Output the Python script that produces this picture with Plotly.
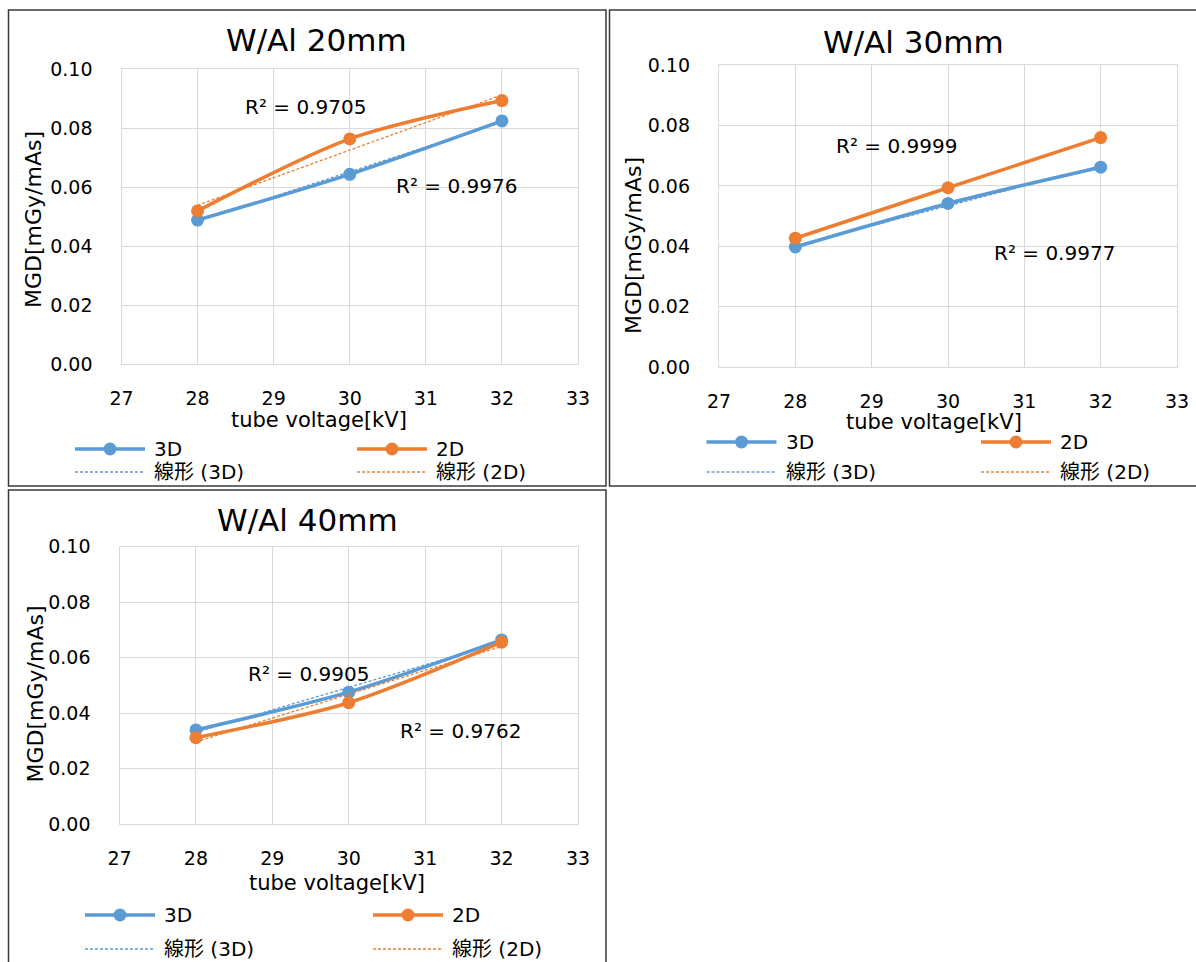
import numpy as np
import plotly.graph_objects as go

# ---- data -------------------------------------------------------------
tube_kv = [28, 30, 32]
panel_titles = ["W/Al 20mm", "W/Al 30mm", "W/Al 40mm"]

mgd_3d_20mm = [0.0488, 0.0643, 0.0824]
mgd_2d_20mm = [0.0519, 0.0763, 0.0893]
mgd_3d_30mm = [0.0398, 0.0542, 0.0662]
mgd_2d_30mm = [0.0427, 0.0594, 0.0760]
mgd_3d_40mm = [0.0340, 0.0476, 0.0664]
mgd_2d_40mm = [0.0312, 0.0438, 0.0656]

r2_3d = ["0.9976", "0.9977", "0.9905"]
r2_2d = ["0.9705", "0.9999", "0.9762"]

series_names = ["3D", "2D"]
trend_names = ["線形 (3D)", "線形 (2D)"]
x_tick_vals = [27, 28, 29, 30, 31, 32, 33]
y_tick_vals = [0.00, 0.02, 0.04, 0.06, 0.08, 0.10]

# ---- styling / layout -------------------------------------------------
W, H = 1196, 962
FONT = "DejaVu Sans, Noto Sans CJK JP"
COL_3D = "#5B9BD5"
COL_2D = "#ED7D31"
GRID = "#d9d9d9"
BORDER = "#3a3a3a"
TREND_DASH = "3px,2px"


def px(x):
    return x / W


def py(y):
    return 1 - y / H


# plot rectangles in pixels: left, right, top, bottom
panels = [
    dict(rect=(121.5, 578, 69, 364), y3d=mgd_3d_20mm, y2d=mgd_2d_20mm,
         title_xy=(316, 40), ytitle_xy=(33, 220), xtitle_xy=(319, 420),
         r2_3d_at=(31.40, 0.0603), r2_2d_at=(29.42, 0.0871),
         legend_cols=(75, 357), legend_rows=(449, 472),
         frame=(8.5, 606, 10, 486)),
    dict(rect=(719, 1177, 65, 367.3), y3d=mgd_3d_30mm, y2d=mgd_2d_30mm,
         title_xy=(913, 42), ytitle_xy=(633, 246), xtitle_xy=(934, 422),
         r2_3d_at=(31.39, 0.0378), r2_2d_at=(29.33, 0.0733),
         legend_cols=(706.5, 981), legend_rows=(442, 472),
         frame=(609.5, 1210, 10, 486)),
    dict(rect=(119.5, 578, 546.7, 824.3), y3d=mgd_3d_40mm, y2d=mgd_2d_40mm,
         title_xy=(307, 520), ytitle_xy=(34.5, 694), xtitle_xy=(337, 883),
         r2_3d_at=(29.47, 0.0541), r2_2d_at=(31.46, 0.0336),
         legend_cols=(85, 373), legend_rows=(915, 949),
         frame=(8.5, 606, 490, 980)),
]

fig = go.Figure()
annotations = []
shapes = []


def text_ann(x, y, text, size, **kw):
    d = dict(x=x, y=y, text=text, showarrow=False,
             font=dict(family=FONT, size=size, color="#000"),
             xanchor="center", yanchor="middle")
    d.update(kw)
    return d


for i, p in enumerate(panels):
    n = "" if i == 0 else str(i + 1)
    xa, ya = "x" + n, "y" + n
    left, right, top, bottom = p["rect"]

    for vals, name, col, r2, r2_at in [
        (p["y3d"], series_names[0], COL_3D, r2_3d[i], p["r2_3d_at"]),
        (p["y2d"], series_names[1], COL_2D, r2_2d[i], p["r2_2d_at"]),
    ]:
        # linear trend line fitted to the measured points
        slope, icpt = np.polyfit(tube_kv, vals, 1)
        trend_y = [slope * k + icpt for k in tube_kv]
        fig.add_trace(go.Scatter(
            x=tube_kv, y=trend_y, xaxis=xa, yaxis=ya, mode="lines",
            line=dict(color=col, width=1.3, dash=TREND_DASH),
            name="線形 (" + name + ")", showlegend=False, hoverinfo="skip"))
        fig.add_trace(go.Scatter(
            x=tube_kv, y=vals, xaxis=xa, yaxis=ya, mode="lines+markers",
            line=dict(color=col, width=3.5, shape="spline", smoothing=0.8),
            marker=dict(color=col, size=13),
            name=name, showlegend=False))
        annotations.append(text_ann(r2_at[0], r2_at[1], "R² = " + r2, 20,
                                    xref=xa, yref=ya))

    axis_common = dict(showgrid=True, gridcolor=GRID, gridwidth=1.3,
                       showline=True, linecolor=GRID, linewidth=1.3, mirror=True,
                       zeroline=False, ticks="outside", tickcolor="rgba(0,0,0,0)",
                       tickfont=dict(family=FONT, size=19, color="#000"),
                       automargin=False, fixedrange=True)
    fig.update_layout(**{
        "xaxis" + n: dict(axis_common, domain=[px(left), px(right)],
                          range=[27, 33], tickvals=x_tick_vals, ticklen=17,
                          anchor=ya),
        "yaxis" + n: dict(axis_common, domain=[py(bottom), py(top)],
                          range=[0, 0.1], tickvals=y_tick_vals, tickformat=".2f",
                          ticklen=24, anchor=xa),
    })

    tx, ty = p["title_xy"]
    annotations.append(text_ann(px(tx), py(ty), panel_titles[i], 31,
                                xref="paper", yref="paper"))
    yx, yy = p["ytitle_xy"]
    annotations.append(text_ann(px(yx), py(yy), "MGD[mGy/mAs]", 22,
                                xref="paper", yref="paper", textangle=-90))
    xx, xy = p["xtitle_xy"]
    annotations.append(text_ann(px(xx), py(xy), "tube voltage[kV]", 21,
                                xref="paper", yref="paper"))

    # legend: two columns (3D | 2D), rows (series | linear trend)
    for c, (col, nm, tnm) in enumerate(zip([COL_3D, COL_2D], series_names, trend_names)):
        lx = p["legend_cols"][c]
        r1, r2 = p["legend_rows"]
        shapes.append(dict(type="line", xref="paper", yref="paper",
                           x0=px(lx), x1=px(lx + 70), y0=py(r1), y1=py(r1),
                           line=dict(color=col, width=3.5)))
        shapes.append(dict(type="circle", xref="paper", yref="paper",
                           x0=px(lx + 35 - 6.5), x1=px(lx + 35 + 6.5),
                           y0=py(r1 + 6.5), y1=py(r1 - 6.5),
                           fillcolor=col, line=dict(color=col, width=0)))
        shapes.append(dict(type="line", xref="paper", yref="paper",
                           x0=px(lx), x1=px(lx + 70), y0=py(r2), y1=py(r2),
                           line=dict(color=col, width=1.3, dash=TREND_DASH)))
        for ry, label in [(r1, nm), (r2, tnm)]:
            annotations.append(text_ann(px(lx + 77), py(ry), label, 20,
                                        xref="paper", yref="paper",
                                        xanchor="left"))

    fx0, fx1, fy0, fy1 = p["frame"]
    shapes.append(dict(type="rect", xref="paper", yref="paper",
                       x0=px(fx0), x1=px(fx1), y0=py(fy1), y1=py(fy0),
                       line=dict(color=BORDER, width=1.5), fillcolor="rgba(0,0,0,0)"))

fig.update_layout(
    template="none",
    width=W, height=H, margin=dict(l=0, r=0, t=0, b=0, pad=0, autoexpand=False),
    paper_bgcolor="white", plot_bgcolor="white",
    font=dict(family=FONT, color="#000"),
    showlegend=False, annotations=annotations, shapes=shapes,
)

fig.write_html("out.html", config={"displayModeBar": False})
